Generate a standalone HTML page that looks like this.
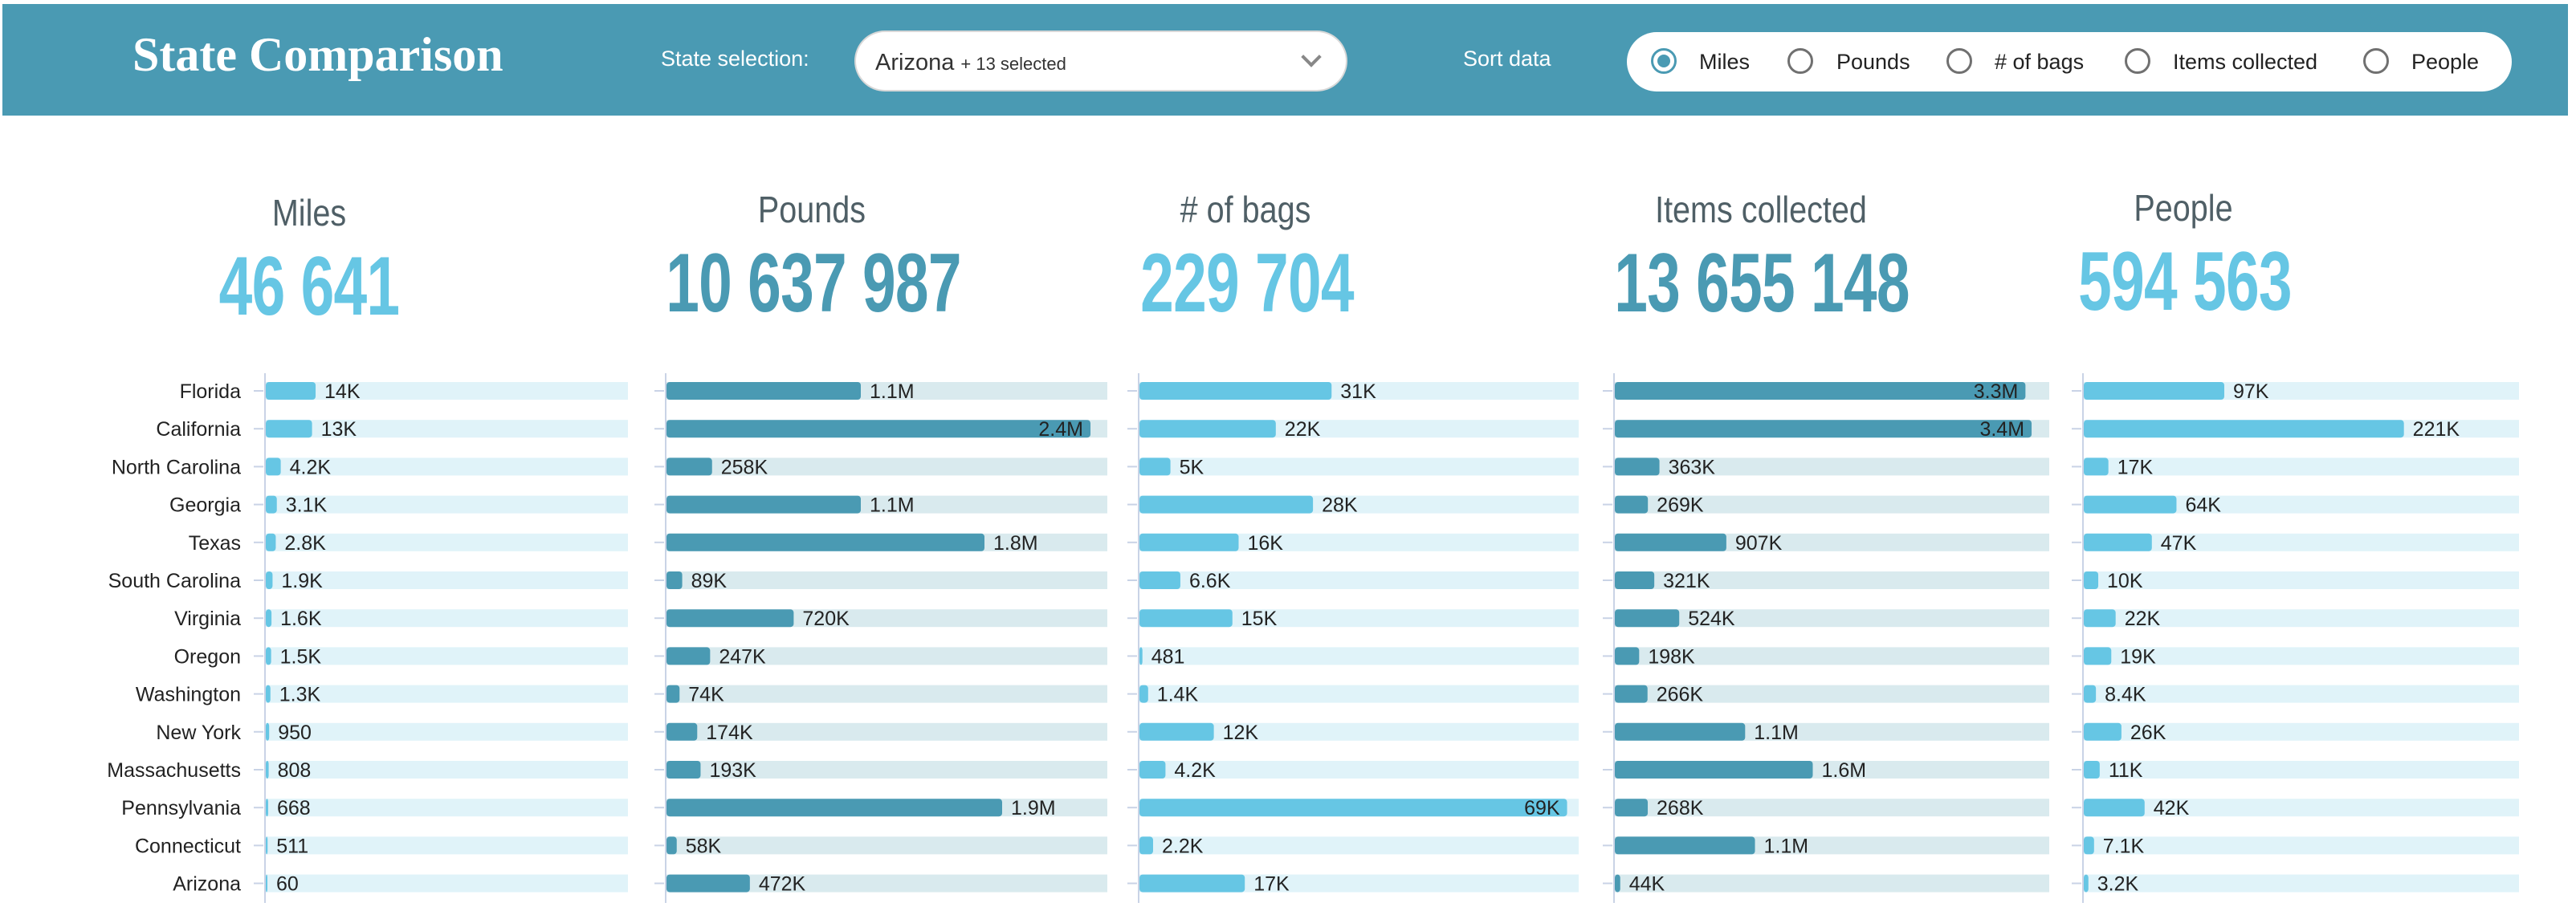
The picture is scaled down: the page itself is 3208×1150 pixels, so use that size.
<!DOCTYPE html>
<html><head><meta charset="utf-8">
<style>
html,body{margin:0;padding:0;background:#fff;width:3208px;height:1150px;overflow:hidden;font-family:"Liberation Sans",sans-serif;}
#header{position:absolute;left:3px;top:5px;width:3195px;height:139px;background:#4a9ab3;}
.abs{position:absolute;}
#title{left:165px;top:34px;font-family:"Liberation Serif",serif;font-weight:bold;font-size:60px;color:#fff;white-space:nowrap;}
#sel-label{left:823px;top:58px;font-size:27px;color:#fff;white-space:nowrap;}
#dropdown{left:1066px;top:40px;width:610px;height:72px;background:#fff;border-radius:36px;box-shadow:0 0 0 2px #d8d8d8;}
#dd-text{position:absolute;left:24px;top:22px;font-size:29px;color:#333;white-space:nowrap;}
#dd-text span{font-size:22px;}
#chev{position:absolute;right:34px;top:22px;width:14px;height:14px;border-right:4px solid #888;border-bottom:4px solid #888;transform:rotate(45deg);}
#sort-label{left:1822px;top:58px;font-size:27px;color:#fff;white-space:nowrap;}
#radio-pill{left:2026px;top:40px;width:1102px;height:74px;background:#fff;border-radius:37px;}
.radio{position:absolute;top:20px;width:32px;height:32px;border:3px solid #707070;border-radius:50%;box-sizing:border-box;}
.radio.on{border-color:#4a9ab3;}
.radio.on::after{content:"";position:absolute;left:5px;top:5px;width:16px;height:16px;border-radius:50%;background:#4a9ab3;}
.rlab{position:absolute;top:22px;font-size:27px;color:#222;white-space:nowrap;}
.kpi-t{font-size:46px;color:#4f5f66;white-space:nowrap;transform:translateX(-50%) scaleX(0.86);}
.kpi-v{font-size:104px;font-weight:bold;white-space:nowrap;transform:translateX(-50%) scaleX(0.72);letter-spacing:-1px;}
</style></head>
<body>
<div id="header"></div>
<div id="title" class="abs">State Comparison</div>
<div id="sel-label" class="abs">State selection:</div>
<div id="dropdown" class="abs">
  <div id="dd-text">Arizona <span>+ 13 selected</span></div>
  <div id="chev"></div>
</div>
<div id="sort-label" class="abs">Sort data</div>
<div id="radio-pill" class="abs">
  <div class="radio on" style="left:30px"></div>
  <div class="rlab" style="left:90px">Miles</div>
  <div class="radio" style="left:200px"></div>
  <div class="rlab" style="left:261px">Pounds</div>
  <div class="radio" style="left:398px"></div>
  <div class="rlab" style="left:458px"># of bags</div>
  <div class="radio" style="left:620px"></div>
  <div class="rlab" style="left:680px">Items collected</div>
  <div class="radio" style="left:917px"></div>
  <div class="rlab" style="left:977px">People</div>
</div>

<div class="abs kpi-t" style="left:385px;top:238px">Miles</div>
<div class="abs kpi-v" style="left:385px;top:298px;color:#66c6e4">46 641</div>
<div class="abs kpi-t" style="left:1011px;top:234px">Pounds</div>
<div class="abs kpi-v" style="left:1013px;top:294px;color:#4a9ab3">10 637 987</div>
<div class="abs kpi-t" style="left:1551px;top:234px"># of bags</div>
<div class="abs kpi-v" style="left:1553px;top:294px;color:#66c6e4">229 704</div>
<div class="abs kpi-t" style="left:2193px;top:234px">Items collected</div>
<div class="abs kpi-v" style="left:2194px;top:294px;color:#4a9ab3">13 655 148</div>
<div class="abs kpi-t" style="left:2719px;top:232px">People</div>
<div class="abs kpi-v" style="left:2721px;top:292px;color:#66c6e4">594 563</div>

<svg id="charts" class="abs" style="left:0;top:0" width="3208" height="1150"></svg>

<script>
const states = ["Florida","California","North Carolina","Georgia","Texas","South Carolina","Virginia","Oregon","Washington","New York","Massachusetts","Pennsylvania","Connecticut","Arizona"];
const milesValues = [14000,13000,4200,3100,2800,1900,1600,1500,1300,950,808,668,511,60];
const poundsValues = [1100000,2400000,258000,1100000,1800000,89000,720000,247000,74000,174000,193000,1900000,58000,472000];
const bagsValues = [31000,22000,5000,28000,16000,6600,15000,481,1400,12000,4200,69000,2200,17000];
const itemsValues = [3340000,3390000,363000,269000,907000,321000,524000,198000,266000,1060000,1610000,268000,1140000,44000];
const peopleValues = [97000,221000,17000,64000,47000,10000,22000,19000,8400,26000,11000,42000,7100,3200];
const domainMax = [102000,2500000,71000,3540000,301000];

const NS="http://www.w3.org/2000/svg";
const svg=document.getElementById('charts');
const charts=[
 {key:'miles',vals:milesValues,x0:330,x1:782,fg:'#66c6e4',bg:'#e0f3f9'},
 {key:'pounds',vals:poundsValues,x0:829,x1:1379,fg:'#4a9ab3',bg:'#d9eaee'},
 {key:'bags',vals:bagsValues,x0:1418,x1:1966,fg:'#66c6e4',bg:'#e0f3f9'},
 {key:'items',vals:itemsValues,x0:2010,x1:2552,fg:'#4a9ab3',bg:'#d9eaee'},
 {key:'people',vals:peopleValues,x0:2594,x1:3137,fg:'#66c6e4',bg:'#e0f3f9'}
];
const y0=487, step=47.2, bh=22;
function yScale(i){return y0+i*step;}
function fmt(v){
  if(v>=1e6) return (v/1e6).toFixed(1)+'M';
  if(v>=1e4) return Math.round(v/1e3)+'K';
  if(v>=1e3) return (v/1e3).toFixed(1).replace(/\.0$/,'')+'K';
  return String(v);
}
function mk(tag,attrs){const e=document.createElementNS(NS,tag);for(const k in attrs)e.setAttribute(k,attrs[k]);svg.appendChild(e);return e;}

states.forEach((s,i)=>{
  const t=mk('text',{x:300,y:yScale(i)+9,'text-anchor':'end','font-size':25,fill:'#222','font-family':'Liberation Sans, sans-serif'});
  t.textContent=s;
  
  
});

charts.forEach((c,ci)=>{
  const xs=v=>(v/domainMax[ci])*(c.x1-c.x0);
  const ax=mk('line',{x1:c.x0,x2:c.x0,y1:465,y2:1125,stroke:'#c9d3e6','stroke-width':2});
  
  
  c.vals.forEach((v,i)=>{
    const cy=yScale(i);
    const tk=mk('line',{x1:c.x0-14,x2:c.x0-2,y1:cy,y2:cy,stroke:'#c9d3e6','stroke-width':2});
    
    
    const bg=mk('rect',{x:c.x0+1,y:cy-bh/2,width:c.x1-c.x0-1,height:bh,fill:c.bg});
    
    
    const w=Math.max(xs(v),2);
    const b=mk('rect',{x:c.x0+1,y:cy-bh/2,width:w,height:bh,rx:4,fill:c.fg});
    
    
    const label=fmt(v);
    const inside=w>(c.x1-c.x0)*0.9;
    const t=mk('text',{x:inside?c.x0+w-8:c.x0+w+12,y:cy+9,'text-anchor':inside?'end':'start','font-size':25,fill:'#222','font-family':'Liberation Sans, sans-serif'});
    t.textContent=label;
    
    
  });
});
</script>
</body></html>
